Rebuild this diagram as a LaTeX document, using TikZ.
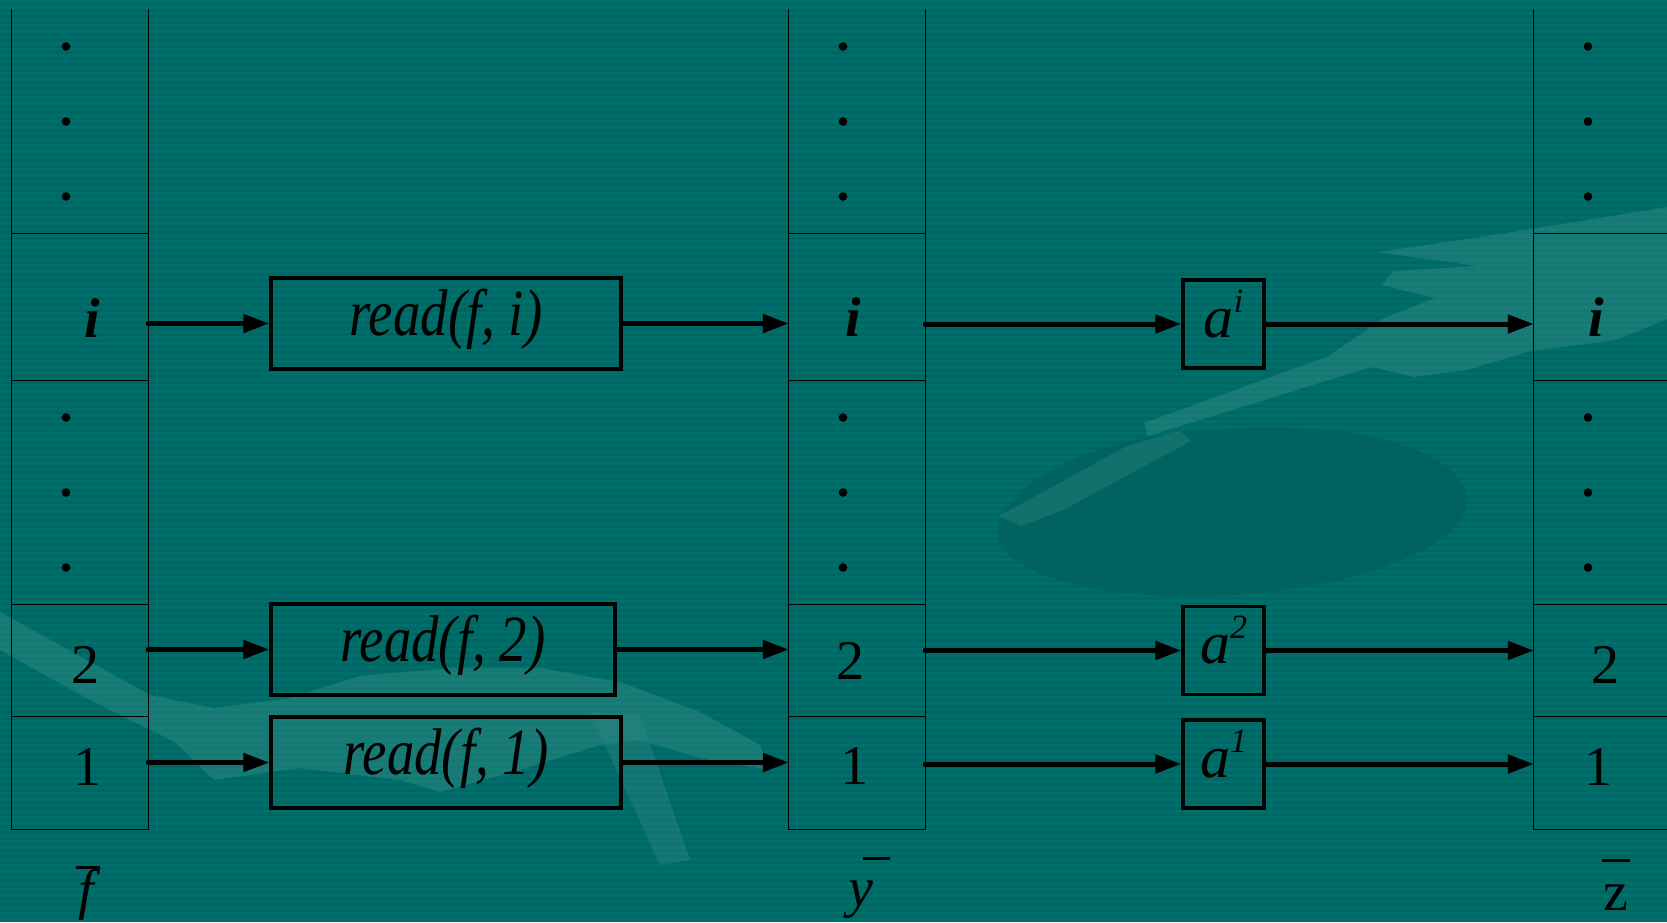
\documentclass[tikz,border=0pt]{standalone}
\usepackage{fontspec}
\usepackage{graphicx}
\setmainfont{Liberation Serif}
\usetikzlibrary{arrows.meta,calc}

\definecolor{sea}{RGB}{0,103,99}
\definecolor{seastripe}{RGB}{0,111,107}
\definecolor{sealight}{RGB}{45,135,130}
\definecolor{seadark}{RGB}{0,99,96}

\newcommand{\labfont}{\fontsize{56}{60}\selectfont}
\newcommand{\coef}[1]{{\fontsize{60}{64}\selectfont\itshape a}\raisebox{25pt}{\fontsize{34}{36}\selectfont\itshape #1}}
\newcommand{\readcall}[1]{\scalebox{0.83}[1]{read(f, #1)}}

\tikzset{
  cell/.style={inner sep=0pt, minimum width=136pt},
  colline/.style={line width=1.2pt, black},
  fnbox/.style={draw, line width=3.4pt, inner sep=0pt, minimum height=91pt,
    text height=32pt, text depth=8pt, font=\fontsize{66}{72}\selectfont\itshape},
  coefbox/.style={draw, line width=3.4pt, inner sep=0pt, minimum width=81pt,
    minimum height=88pt, text height=38pt, text depth=12pt},
  flow/.style={line width=5pt, line cap=round,
    -{Triangle[length=26pt,width=18pt]}},
  idx/.style={font=\labfont\bfseries\itshape, anchor=base, inner sep=0pt},
  num/.style={font=\labfont, anchor=base, inner sep=0pt},
  vecname/.style={font=\labfont, anchor=base, inner sep=0pt},
  vecbar/.style={line width=3pt},
}

\begin{document}
\begin{tikzpicture}[x=1pt,y=-1pt]
\useasboundingbox (0,0) rectangle (1667,922);

% backdrop: teal with fine horizontal stripes
\fill[sea] (0,0) rectangle (1667,922);
\foreach \k in {0,...,153}
  \fill[seastripe] (0,6*\k) rectangle (1667,6*\k+3);

% faint hand-like shapes in the backdrop
\fill[seadark] (1000,520) .. controls (1040,440) and (1200,420) .. (1330,430)
  .. controls (1460,445) and (1500,500) .. (1440,540)
  .. controls (1350,600) and (1150,610) .. (1060,580)
  .. controls (1010,565) and (990,545) .. (1000,520) -- cycle;
\fill[sealight, opacity=0.55]
  (0,612) -- (150,695) -- (214,708) -- (290,698) -- (360,676) -- (450,668)
  -- (540,668) -- (620,682) -- (700,712) -- (760,745) -- (770,770)
  -- (700,758) -- (640,740) -- (600,745) -- (520,770) -- (440,792)
  -- (400,780) -- (300,768) -- (214,780) -- (175,742) -- (90,700)
  -- (0,650) -- cycle;
\fill[sealight, opacity=0.45]
  (590,712) -- (640,715) -- (690,860) -- (660,865) -- cycle;
\fill[sealight, opacity=0.55]
  (1377,252) -- (1488,236) -- (1667,207) -- (1667,319) -- (1616,340)
  -- (1531,351) -- (1467,370) -- (1414,377) -- (1371,367) -- (1148,436)
  -- (1144,423) -- (1329,356) -- (1382,319) -- (1435,298) -- (1382,285)
  -- (1393,271) -- (1478,266) -- cycle;
\fill[sealight, opacity=0.4]
  (999,516) -- (1127,446) -- (1180,431) -- (1191,441) -- (1063,510)
  -- (1021,526) -- cycle;

% the three vectors, each as a column of cells
\foreach \c/\x in {f/80, y/857, z/1602} {
  \node[cell, minimum height=225pt] (\c Top)  at (\x,121.5) {};
  \node[cell, minimum height=146pt] (\c I)    at (\x,307)   {};
  \node[cell, minimum height=225pt] (\c Dots) at (\x,492.5) {};
  \node[cell, minimum height=112pt] (\c 2)    at (\x,661)   {};
  \node[cell, minimum height=112pt] (\c 1)    at (\x,773)   {};
  \draw[colline] (\c Top.north west) -- (\c 1.south west)
                 -- (\c 1.south east) -- (\c Top.north east);
  \draw[colline] (\c I.north west) -- (\c I.north east);
  \draw[colline] (\c I.south west) -- (\c I.south east);
  \draw[colline] (\c 2.north west) -- (\c 2.north east);
  \draw[colline] (\c 1.north west) -- (\c 1.north east);
  \foreach \d in {-75,0,75} {
    \fill ($(\c Top)+(-14,\d)$) circle (4.3);
    \fill ($(\c Dots)+(-14,\d)$) circle (4.3);
  }
}

% cell entries
\node[idx] (fIlab) at (92,337)  {i};
\node[num] (f2lab) at (85.5,683) {2};
\node[num] (f1lab) at (87,785)  {1};
\node[idx] (yIlab) at (853,336) {i};
\node[num] (y2lab) at (850,679) {2};
\node[num] (y1lab) at (854,784) {1};
\node[idx] (zIlab) at (1596,336) {i};
\node[num] (z2lab) at (1605,683) {2};
\node[num] (z1lab) at (1598,785) {1};

% vector names with bars
\node[vecname, font=\labfont\itshape] (fvec) at (86,908) {f};
\draw[vecbar] ($(fvec.base)+(-10,-41)$) -- ($(fvec.base)+(14,-41)$);
\node[vecname, font=\labfont\itshape] (yvec) at (861,906) {y};
\draw[vecbar] ($(yvec.base)+(2,-48)$) -- ($(yvec.base)+(29,-48)$);
\node[vecname] (zvec) at (1616,910) {z};
\draw[vecbar] ($(zvec.base)+(-14,-50)$) -- ($(zvec.base)+(14,-50)$);

% read operations
\node[fnbox, minimum width=350pt] (rdI) at (446,323.5) {\readcall{i}};
\node[fnbox, minimum width=344pt] (rd2) at (443,649.5) {\readcall{2}};
\node[fnbox, minimum width=350pt] (rd1) at (446,762.5) {\readcall{1}};

% coefficients
\node[coefbox] (aI) at (1223.5,324)   {\coef{i}};
\node[coefbox] (a2) at (1223.5,650.5) {\coef{2}};
\node[coefbox] (a1) at (1223.5,764)   {\coef{1}};

% data flow
\foreach \r in {I,2,1} {
  \draw[flow] (rd\r.west -| f\r.east) -- (rd\r.west);
  \draw[flow] (rd\r.east) -- (rd\r.east -| y\r.west);
  \draw[flow] (a\r.west -| y\r.east) -- (a\r.west);
  \draw[flow] (a\r.east) -- (a\r.east -| z\r.west);
}
\end{tikzpicture}
\end{document}
